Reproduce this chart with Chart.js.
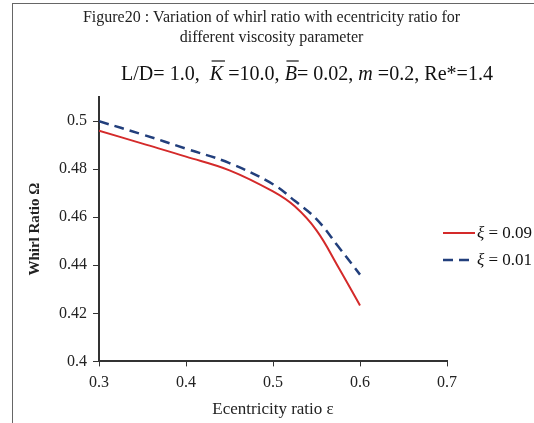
<!DOCTYPE html>
<html>
<head>
<meta charset="utf-8">
<script src="https://cdn.jsdelivr.net/npm/chart.js@4.4.1/dist/chart.umd.min.js"></script>
<style>
  html, body { margin: 0; padding: 0; background: #fff; }
  #frame {
    position: absolute; left: 12px; top: 3px;
    width: 522px; height: 420px;
    border-left: 1px solid #666; border-top: 1px solid #666;
  }
  #wrap { position: relative; width: 521px; height: 419px; }
</style>
</head>
<body>
<div id="frame"><div id="wrap"><canvas id="whirl"></canvas></div></div>
<script>
// ===== DATA =====
const eccentricity = [0.3, 0.35, 0.4, 0.45, 0.5, 0.525, 0.55, 0.575, 0.6];
const whirlXi009 = [0.496, 0.4906, 0.4852, 0.4795, 0.4707, 0.4645, 0.4545, 0.4393, 0.4233];
const whirlXi001 = [0.4999, 0.4944, 0.4885, 0.4825, 0.4737, 0.4668, 0.4592, 0.4478, 0.4361];
const xiLabels = ["0.09", "0.01"];
const xTicks = [0.3, 0.4, 0.5, 0.6, 0.7];
const yTicks = [0.4, 0.42, 0.44, 0.46, 0.48, 0.5];
const captionLines = ["Figure20 : Variation of whirl ratio with ecentricity ratio for",
                      "different viscosity parameter"];

const serif = "'Liberation Serif', 'DejaVu Serif', serif";

function toPoints(ys) {
    return eccentricity.map((x, i) => ({ x: x, y: ys[i] }));
}

// caption + formula line above the plot (formula has italic / overlined symbols)
const headingPlugin = {
    id: "heading",
    afterDraw(chart) {
        const ctx = chart.ctx;
        const area = chart.chartArea;
        ctx.save();
        ctx.fillStyle = "#222";
        ctx.textBaseline = "middle";
        ctx.textAlign = "center";
        ctx.font = "16px " + serif;
        captionLines.forEach((line, i) => ctx.fillText(line, chart.width / 2 - 2, 14 + i * 20));

        const parts = [
            { t: "L/D= 1.0,  ", it: false },
            { t: "K", it: true, bar: true },
            { t: " =10.0, ", it: false },
            { t: "B", it: true, bar: true },
            { t: "= 0.02, ", it: false },
            { t: "m", it: true },
            { t: " =0.2, Re*=1.4", it: false }
        ];
        const fontFor = p => (p.it ? "italic " : "") + "22px " + serif;
        let total = 0;
        parts.forEach(p => { ctx.font = fontFor(p); total += ctx.measureText(p.t).width; });
        const sx = 372 / total;
        ctx.textAlign = "left";
        ctx.translate(area.left + 22, area.top - 23);
        ctx.scale(sx, 1);
        let x = 0;
        ctx.fillStyle = "#111";
        ctx.strokeStyle = "#111";
        ctx.lineWidth = 1.2;
        parts.forEach(p => {
            ctx.font = fontFor(p);
            ctx.fillText(p.t, x, 0);
            const w = ctx.measureText(p.t).width;
            if (p.bar) {
                ctx.beginPath();
                ctx.moveTo(x + 2, -13);
                ctx.lineTo(x + w + 2, -13);
                ctx.stroke();
            }
            x += w;
        });
        ctx.restore();
    }
};

// legend at the right of the plot, built from the datasets
const sideLegend = {
    id: "sideLegend",
    afterDraw(chart) {
        const ctx = chart.ctx;
        const area = chart.chartArea;
        ctx.save();
        chart.data.datasets.forEach((ds, i) => {
            const y = area.top + 136 + i * 27;
            const x0 = area.right - 4;
            ctx.beginPath();
            ctx.setLineDash(ds.borderDash || []);
            ctx.strokeStyle = ds.borderColor;
            ctx.lineWidth = ds.borderWidth;
            ctx.moveTo(x0, y);
            ctx.lineTo(x0 + 32, y);
            ctx.stroke();
            ctx.setLineDash([]);
            ctx.fillStyle = "#111";
            ctx.textBaseline = "middle";
            ctx.font = "italic 17px " + serif;
            ctx.fillText("\u03BE", x0 + 34, y + 1);
            const w = ctx.measureText("\u03BE").width;
            ctx.font = "17px " + serif;
            ctx.fillText(" = " + xiLabels[i], x0 + 34 + w, y + 1);
        });
        ctx.restore();
    }
};

document.addEventListener("DOMContentLoaded", function () {
    const ctx = document.getElementById("whirl").getContext("2d");
    new Chart(ctx, {
        type: "scatter",
        data: {
            datasets: [{
                label: "\u03BE = " + xiLabels[0],
                data: toPoints(whirlXi009),
                showLine: true,
                borderColor: "#d42a2a",
                borderWidth: 2,
                pointRadius: 0,
                tension: 0.4
            }, {
                label: "\u03BE = " + xiLabels[1],
                data: toPoints(whirlXi001),
                showLine: true,
                borderColor: "#223f7c",
                borderWidth: 2.5,
                borderDash: [10, 6],
                pointRadius: 0,
                tension: 0.4
            }]
        },
        options: {
            responsive: true,
            maintainAspectRatio: false,
            animation: false,
            layout: { padding: { left: 6, right: 87, top: 93, bottom: 0 } },
            plugins: {
                legend: { display: false },
                tooltip: { enabled: false },
                title: { display: false }
            },
            scales: {
                x: {
                    type: "linear",
                    min: 0.3,
                    max: 0.7,
                    afterBuildTicks: axis => { axis.ticks = xTicks.map(v => ({ value: v })); },
                    ticks: {
                        color: "#222",
                        font: { family: serif, size: 16 },
                        padding: 7,
                        callback: v => v.toFixed(1)
                    },
                    grid: { drawOnChartArea: false, drawTicks: true, tickLength: 5, color: "#333" },
                    border: { color: "#333", width: 2 },
                    title: {
                        display: true,
                        text: "Ecentricity ratio \u03B5",
                        color: "#222",
                        font: { family: serif, size: 17 },
                        padding: { top: 0, bottom: 3 }
                    }
                },
                y: {
                    min: 0.4,
                    max: 0.51,
                    afterBuildTicks: axis => { axis.ticks = yTicks.map(v => ({ value: v })); },
                    ticks: {
                        color: "#222",
                        font: { family: serif, size: 16 },
                        padding: 6,
                        callback: v => String(parseFloat(v.toFixed(2)))
                    },
                    grid: { drawOnChartArea: false, drawTicks: true, tickLength: 6, color: "#333" },
                    border: { color: "#333", width: 2 },
                    title: {
                        display: true,
                        text: "Whirl Ratio \u03A9",
                        color: "#222",
                        font: { family: serif, size: 15, weight: "bold" },
                        padding: { top: 7, bottom: 9 }
                    }
                }
            }
        },
        plugins: [headingPlugin, sideLegend]
    });
});
</script>
</body>
</html>
